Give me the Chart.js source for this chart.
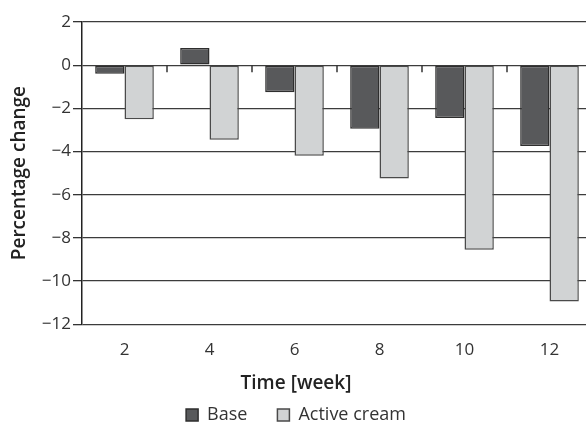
<!DOCTYPE html>
<html>
<head>
<meta charset="utf-8">
<script src="https://cdn.jsdelivr.net/npm/chart.js@4/dist/chart.umd.min.js"></script>
<style>
    body { margin: 0; background: #fff; overflow: hidden; }
    #caixa { width: 600px; height: 424px; position: relative; }
</style>
</head>
<body>
<div id="caixa"><canvas id="myChart"></canvas></div>
<script>
// dados
const semanas = ['2', '4', '6', '8', '10', '12'];
const base = [-0.4, 0.8, -1.25, -2.95, -2.45, -3.75];
const cremeAtivo = [-2.5, -3.45, -4.2, -5.25, -8.55, -10.95];
const nomesSeries = ['Base', 'Active cream'];

const fonte = 'Open Sans';

// pequenos tracos no eixo zero entre as categorias
const tracosZero = {
    id: 'tracosZero',
    afterDatasetsDraw(chart) {
        const x = chart.scales.x;
        const y = chart.scales.y;
        const y0 = y.getPixelForValue(0);
        const ctx = chart.ctx;
        ctx.save();
        ctx.strokeStyle = '#333';
        ctx.lineWidth = 1.5;
        for (let i = 0; i < semanas.length - 1; i++) {
            const meio = (x.getPixelForTick(i) + x.getPixelForTick(i + 1)) / 2;
            ctx.beginPath();
            ctx.moveTo(meio, y0);
            ctx.lineTo(meio, y0 + 7);
            ctx.stroke();
        }
        ctx.restore();
    }
};

let dados = {
    labels: semanas,
    datasets: [{
        label: nomesSeries[0],
        data: base,
        backgroundColor: '#58595b',
        borderColor: '#2e2e2e',
        borderWidth: 1.5,
        borderSkipped: false,
        categoryPercentage: 0.69,
        barPercentage: 1
    }, {
        label: nomesSeries[1],
        data: cremeAtivo,
        backgroundColor: '#d1d3d4',
        borderColor: '#4a4a4a',
        borderWidth: 1.5,
        borderSkipped: false,
        categoryPercentage: 0.69,
        barPercentage: 1
    }]
};

const config = {
    type: 'bar',
    data: dados,
    plugins: [tracosZero],
    options: {
        responsive: true,
        maintainAspectRatio: false,
        animation: false,
        layout: { padding: { top: 22, right: 8, left: 0, bottom: -10 } },
        scales: {
            x: {
                grid: { display: false },
                border: { display: false },
                ticks: { color: '#333', font: { family: fonte, size: 17 }, padding: 8 },
                afterFit: (s) => { s.height = 50; }
            },
            y: {
                min: -12,
                max: 2,
                ticks: {
                    stepSize: 2,
                    color: '#333',
                    padding: 2,
                    font: { family: fonte, size: 17 },
                    callback: (v) => String(v).replace('-', '\u2212')
                },
                grid: { color: '#3c3c3c', lineWidth: 1.3, tickLength: 9, tickColor: '#333' },
                border: { color: '#222', width: 1.5 },
                title: {
                    display: true,
                    text: 'Percentage change',
                    color: '#222',
                    font: { family: fonte, size: 19, weight: '600' },
                    padding: { top: 8, bottom: 0 }
                },
                afterFit: (s) => { s.width = 82; }
            }
        },
        plugins: {
            legend: {
                position: 'bottom',
                title: {
                    display: true,
                    text: 'Time [week]',
                    color: '#222',
                    font: { family: fonte, size: 19, weight: '600' },
                    padding: { top: 0, bottom: -21 }
                },
                labels: {
                    color: '#333',
                    font: { family: fonte, size: 18 },
                    boxWidth: 12,
                    boxHeight: 12,
                    padding: 30
                }
            },
            tooltip: { enabled: false }
        }
    }
};

let myChart = new Chart(document.getElementById('myChart'), config);
</script>
</body>
</html>
